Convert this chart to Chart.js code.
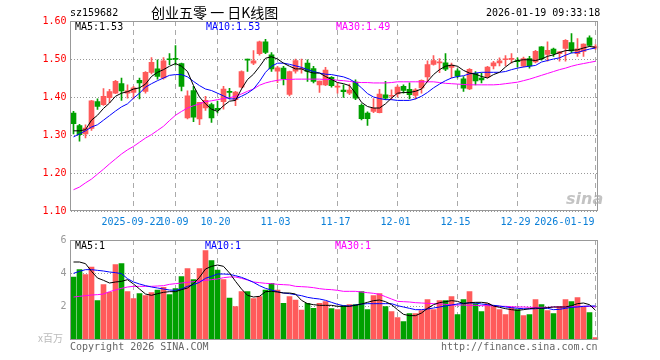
<!DOCTYPE html>
<html><head><meta charset="utf-8">
<script src="https://cdn.jsdelivr.net/npm/chart.js@4.4.1/dist/chart.umd.min.js"></script>
<style>
html,body{margin:0;padding:0;background:#fff;}
#wrap{position:relative;width:660px;height:360px;overflow:hidden;background:#fff;}
canvas{position:absolute;left:0;}
.t{position:absolute;font-family:'DejaVu Sans Mono',monospace;font-size:10px;line-height:12px;white-space:pre;color:#000;}
</style></head><body>
<div id="wrap">
<canvas id="cMain" width="660" height="232" style="top:0"></canvas>
<canvas id="cVol" width="660" height="130" style="top:230px"></canvas>
<div class="t" style="left:70px;top:7px">sz159682</div>
<div class="t" style="left:151px;top:3px;font-family:'Noto Sans CJK SC',sans-serif;font-size:14px;line-height:18px">创业五零 一 日K线图</div>
<div class="t" style="left:486px;top:7px">2026-01-19 09:33:18</div>
<div class="t" id="lg5" style="left:75px;top:21px;color:#000"></div>
<div class="t" id="lg10" style="left:206px;top:21px;color:#0000ff"></div>
<div class="t" id="lg30" style="left:336px;top:21px;color:#ff00ff"></div>
<div class="t" style="left:75px;top:240px;color:#000">MA5:1</div>
<div class="t" style="left:205px;top:240px;color:#0000ff">MA10:1</div>
<div class="t" style="left:335px;top:240px;color:#ff00ff">MA30:1</div>
<div class="t" style="left:38px;top:332px;color:#bbb;font-family:'Noto Sans CJK SC',sans-serif;font-size:10px">x百万</div>
<div class="t" style="left:70px;top:341px;color:#666">Copyright 2026 SINA.COM</div>
<div class="t" style="left:441px;top:341px;color:#666">http://finance.sina.com.cn</div>
<div class="t" style="left:566px;top:190px;color:rgba(170,170,170,0.7);font-family:'DejaVu Sans',sans-serif;font-size:16px;font-style:italic;font-weight:bold;line-height:18px">sina</div>
</div>
<script>
const dates = ['2025-09-08','2025-09-09','2025-09-10','2025-09-11','2025-09-12','2025-09-15','2025-09-16','2025-09-17','2025-09-18','2025-09-19',
'2025-09-22','2025-09-23','2025-09-24','2025-09-25','2025-09-26','2025-09-29','2025-09-30','2025-10-09','2025-10-10','2025-10-13',
'2025-10-14','2025-10-15','2025-10-16','2025-10-17','2025-10-20','2025-10-21','2025-10-22','2025-10-23','2025-10-24','2025-10-27',
'2025-10-28','2025-10-29','2025-10-30','2025-10-31','2025-11-03','2025-11-04','2025-11-05','2025-11-06','2025-11-07','2025-11-10',
'2025-11-11','2025-11-12','2025-11-13','2025-11-14','2025-11-17','2025-11-18','2025-11-19','2025-11-20','2025-11-21','2025-11-24',
'2025-11-25','2025-11-26','2025-11-27','2025-11-28','2025-12-01','2025-12-02','2025-12-03','2025-12-04','2025-12-05','2025-12-08',
'2025-12-09','2025-12-10','2025-12-11','2025-12-12','2025-12-15','2025-12-16','2025-12-17','2025-12-18','2025-12-19','2025-12-22',
'2025-12-23','2025-12-24','2025-12-25','2025-12-26','2025-12-29','2025-12-30','2025-12-31','2026-01-05','2026-01-06','2026-01-07',
'2026-01-08','2026-01-09','2026-01-12','2026-01-13','2026-01-14','2026-01-15','2026-01-16','2026-01-19'];

const tickDates = ['2025-09-22','2025-10-09','2025-10-20','2025-11-03','2025-11-17','2025-12-01','2025-12-15','2025-12-29','2026-01-19'];
const tickTexts = ['2025-09-22','10-09','10-20','11-03','11-17','12-01','12-15','12-29','2026-01-19'];
const priceTicks = [1.10,1.20,1.30,1.40,1.50,1.60];
const volTicks = [2,4,6];

const opens = [1.358,1.325,1.303,1.317,1.388,1.380,1.398,1.410,1.435,1.410,
1.412,1.444,1.415,1.465,1.474,1.450,1.499,1.501,1.488,1.345,
1.417,1.342,1.371,1.380,1.370,1.388,1.414,1.393,1.426,1.499,
1.489,1.514,1.545,1.511,1.468,1.476,1.407,1.468,1.473,1.489,
1.475,1.432,1.432,1.452,1.426,1.418,1.410,1.439,1.378,1.358,
1.362,1.359,1.406,1.402,1.408,1.428,1.420,1.404,1.424,1.453,
1.486,1.490,1.490,1.478,1.469,1.448,1.421,1.462,1.450,1.453,
1.482,1.490,1.498,1.499,1.495,1.481,1.501,1.492,1.532,1.512,
1.526,1.514,1.528,1.543,1.514,1.520,1.556,1.529];
const highs = [1.362,1.328,1.327,1.391,1.395,1.422,1.420,1.444,1.450,1.432,
1.428,1.450,1.467,1.504,1.498,1.504,1.514,1.535,1.489,1.416,
1.428,1.386,1.402,1.384,1.389,1.428,1.423,1.415,1.469,1.500,
1.522,1.547,1.552,1.517,1.481,1.481,1.468,1.500,1.500,1.498,
1.481,1.442,1.478,1.454,1.437,1.432,1.434,1.445,1.382,1.361,
1.396,1.420,1.441,1.419,1.430,1.432,1.437,1.422,1.445,1.495,
1.509,1.501,1.514,1.489,1.474,1.454,1.475,1.467,1.463,1.481,
1.494,1.503,1.509,1.514,1.503,1.505,1.507,1.523,1.533,1.545,
1.529,1.520,1.551,1.567,1.554,1.540,1.561,1.538];
const lows = [1.303,1.284,1.292,1.312,1.367,1.378,1.385,1.409,1.391,1.397,
1.395,1.395,1.410,1.461,1.447,1.447,1.485,1.484,1.416,1.342,
1.335,1.327,1.365,1.333,1.358,1.368,1.395,1.377,1.424,1.467,
1.485,1.510,1.514,1.467,1.438,1.432,1.403,1.463,1.463,1.441,
1.437,1.412,1.430,1.426,1.410,1.399,1.406,1.393,1.340,1.325,
1.359,1.358,1.393,1.393,1.400,1.410,1.395,1.395,1.410,1.440,
1.484,1.464,1.469,1.451,1.450,1.415,1.419,1.432,1.437,1.450,
1.474,1.482,1.482,1.489,1.479,1.479,1.476,1.490,1.497,1.494,
1.507,1.494,1.494,1.516,1.507,1.507,1.533,1.525];
const closes = [1.330,1.301,1.318,1.390,1.375,1.402,1.414,1.441,1.416,1.416,
1.424,1.437,1.465,1.491,1.454,1.495,1.498,1.499,1.428,1.403,
1.347,1.386,1.391,1.345,1.366,1.421,1.412,1.413,1.467,1.497,
1.495,1.545,1.517,1.474,1.477,1.448,1.467,1.496,1.475,1.467,
1.441,1.442,1.471,1.430,1.429,1.414,1.418,1.397,1.343,1.343,
1.370,1.408,1.397,1.404,1.426,1.417,1.406,1.419,1.444,1.485,
1.496,1.492,1.473,1.484,1.455,1.423,1.473,1.442,1.445,1.479,
1.490,1.495,1.500,1.501,1.493,1.501,1.482,1.520,1.500,1.523,
1.514,1.519,1.549,1.521,1.527,1.539,1.536,1.533];

const ma5 = [1.311,1.311,1.314,1.339,1.352,1.370,1.384,1.402,1.410,1.414,
1.421,1.424,1.434,1.454,1.465,1.472,1.481,1.488,1.481,1.467,
1.430,1.400,1.382,1.368,1.362,1.377,1.389,1.391,1.421,1.446,
1.460,1.480,1.502,1.506,1.500,1.489,1.481,1.474,1.474,1.467,
1.463,1.463,1.454,1.446,1.438,1.435,1.430,1.410,1.386,1.375,
1.371,1.371,1.382,1.397,1.410,1.412,1.412,1.415,1.421,1.441,
1.459,1.472,1.481,1.484,1.481,1.470,1.463,1.460,1.454,1.450,
1.459,1.465,1.479,1.491,1.496,1.498,1.498,1.496,1.500,1.507,
1.511,1.517,1.522,1.523,1.524,1.529,1.533,1.531];
const ma10 = [1.295,1.303,1.311,1.321,1.327,1.339,1.351,1.363,1.374,1.382,
1.397,1.410,1.426,1.435,1.443,1.450,1.457,1.459,1.459,1.453,
1.441,1.430,1.421,1.417,1.410,1.403,1.395,1.395,1.402,1.410,
1.421,1.441,1.465,1.481,1.489,1.489,1.486,1.482,1.478,1.472,
1.467,1.463,1.460,1.459,1.456,1.453,1.447,1.438,1.424,1.409,
1.400,1.396,1.393,1.393,1.391,1.391,1.391,1.395,1.402,1.412,
1.424,1.434,1.443,1.450,1.454,1.456,1.461,1.463,1.465,1.465,
1.465,1.465,1.467,1.472,1.476,1.479,1.481,1.483,1.492,1.496,
1.500,1.503,1.510,1.516,1.517,1.522,1.526,1.529];
const ma30 = [1.156,1.163,1.174,1.184,1.197,1.210,1.224,1.237,1.250,1.261,
1.270,1.281,1.292,1.301,1.312,1.323,1.338,1.352,1.362,1.371,
1.377,1.382,1.388,1.390,1.393,1.396,1.398,1.402,1.408,1.415,
1.421,1.431,1.437,1.441,1.444,1.446,1.446,1.447,1.447,1.447,
1.447,1.447,1.446,1.446,1.444,1.443,1.441,1.439,1.438,1.438,
1.437,1.437,1.437,1.438,1.440,1.440,1.440,1.440,1.440,1.440,
1.440,1.438,1.436,1.435,1.434,1.433,1.432,1.432,1.432,1.432,
1.432,1.433,1.435,1.437,1.439,1.443,1.447,1.452,1.457,1.462,
1.467,1.472,1.476,1.481,1.485,1.488,1.491,1.494];

const volumes = [3.78,4.22,3.92,4.38,2.36,3.32,2.86,4.52,4.58,2.90,
2.48,2.78,2.66,2.84,3.00,3.16,2.72,3.08,3.80,4.28,
3.62,4.28,5.36,4.76,4.20,3.62,2.52,2.00,2.90,2.90,
2.48,2.60,3.00,3.40,3.00,2.20,2.60,2.40,1.80,2.20,
1.90,2.20,2.30,1.88,1.82,2.06,2.12,2.12,2.90,1.82,
2.66,2.78,2.00,1.70,1.34,1.10,1.58,1.58,1.76,2.42,
1.82,2.36,2.36,2.60,1.52,2.42,2.90,2.18,1.70,2.18,
2.06,1.82,1.52,1.94,1.82,1.46,1.52,2.42,2.12,1.76,
1.58,2.00,2.42,2.30,2.54,2.00,1.64,0.14];
const vma5 = [4.68,4.68,4.58,4.12,3.72,3.58,3.42,3.48,3.52,3.62,
3.36,3.06,2.76,2.68,2.78,2.86,2.90,2.90,3.02,3.12,
3.38,3.76,4.26,4.42,4.50,4.42,4.02,3.52,3.06,2.68,
2.58,2.62,2.90,2.92,2.88,2.82,2.82,2.76,2.38,2.18,
2.12,2.08,2.08,2.08,2.02,2.02,2.02,2.08,2.16,2.26,
2.36,2.40,2.30,2.12,1.82,1.54,1.46,1.46,1.62,1.90,
2.12,2.24,2.30,2.36,2.32,2.18,2.24,2.26,2.26,2.22,
2.04,1.96,1.88,1.82,1.78,1.82,1.88,1.92,1.90,1.94,
1.98,1.98,1.98,2.06,2.18,2.22,2.12,1.78];
const vma10 = [4.00,4.12,4.22,4.22,4.18,4.14,4.08,4.04,3.98,3.68,
3.48,3.36,3.26,3.18,3.12,3.06,3.00,2.98,3.06,3.22,
3.32,3.46,3.70,3.82,3.96,3.96,3.94,3.86,3.76,3.62,
3.46,3.26,3.10,3.00,2.90,2.82,2.78,2.72,2.66,2.56,
2.50,2.46,2.38,2.26,2.14,2.06,2.04,2.10,2.16,2.18,
2.18,2.18,2.18,2.18,2.06,1.98,1.90,1.82,1.82,1.86,
1.92,1.98,2.04,2.10,2.16,2.20,2.22,2.22,2.16,2.12,
2.08,2.04,1.98,1.94,1.90,1.88,1.86,1.88,1.90,1.90,
1.82,1.84,1.90,1.96,1.98,2.02,2.04,2.04];
const vma30 = [2.58,2.62,2.66,2.70,2.72,2.76,2.90,3.00,3.10,3.18,
3.22,3.22,3.22,3.22,3.24,3.26,3.34,3.38,3.42,3.46,
3.50,3.54,3.58,3.62,3.66,3.74,3.78,3.78,3.70,3.60,
3.48,3.44,3.40,3.38,3.34,3.32,3.30,3.22,3.20,3.18,
3.14,3.08,3.04,3.02,2.98,2.92,2.92,2.92,2.88,2.84,
2.80,2.74,2.60,2.46,2.32,2.30,2.28,2.24,2.22,2.20,
2.18,2.16,2.14,2.10,2.10,2.10,2.08,2.08,2.06,2.06,
2.04,2.02,2.02,2.00,1.98,1.98,1.96,1.96,1.96,1.96,
1.98,1.98,1.98,2.00,2.02,2.02,2.02,1.98];

const UP = '#ff5a5a', DOWN = '#00a000';
const colors = closes.map((c, i) => c >= opens[i] ? UP : DOWN);
const tickIdx = new Set(tickDates.map(d => dates.indexOf(d)));
const MONO = "'DejaVu Sans Mono', monospace";

document.getElementById('lg5').textContent = 'MA5:' + ma5[ma5.length - 1].toFixed(2);
document.getElementById('lg10').textContent = 'MA10:' + ma10[ma10.length - 1].toFixed(2);
document.getElementById('lg30').textContent = 'MA30:' + ma30[ma30.length - 1].toFixed(2);

const framePlugin = {
  id: 'frame',
  afterDraw(chart) {
    const {ctx, chartArea: a} = chart;
    ctx.save();
    ctx.strokeStyle = '#999';
    ctx.lineWidth = 1;
    const l = Math.floor(a.left) + 0.5, t = Math.floor(a.top) + 0.5;
    const r = Math.floor(a.right) - 0.5, b = Math.floor(a.bottom) - 0.5;
    ctx.strokeRect(l, t, r - l, b - t);
    ctx.restore();
  }
};
const xLabelPlugin = {
  id: 'xlab',
  afterDraw(chart) {
    const xs = chart.scales.x, ctx = chart.ctx;
    ctx.save();
    ctx.font = '10px ' + MONO;
    ctx.fillStyle = '#0a7fd8';
    ctx.textBaseline = 'middle';
    tickDates.forEach((d, k) => {
      const px = xs.getPixelForValue(dates.indexOf(d));
      const last = k === tickDates.length - 1;
      ctx.textAlign = last ? 'right' : 'center';
      ctx.fillText(tickTexts[k], last ? px - 1 : px - 2, chart.chartArea.bottom + 11);
    });
    ctx.restore();
  }
};

function xScale() {
  return {
    type: 'category',
    offset: true,
    afterFit: s => { s.height = 21; },
    ticks: { display: false, autoSkip: false },
    grid: { offset: false, drawTicks: false, lineWidth: 1,
      color: c => tickIdx.has(c.index) ? '#aaa' : 'rgba(0,0,0,0)' },
    border: { display: false, dash: [5, 4] }
  };
}

new Chart(document.getElementById('cMain'), {
  type: 'bar',
  data: {
    labels: dates,
    datasets: [
      { type: 'line', data: ma5, borderColor: '#000000', borderWidth: 1, pointRadius: 0, tension: 0, order: 1 },
      { type: 'line', data: ma10, borderColor: '#0000ff', borderWidth: 1, pointRadius: 0, tension: 0, order: 1 },
      { type: 'line', data: ma30, borderColor: '#ff00ff', borderWidth: 1, pointRadius: 0, tension: 0, order: 1 },
      { type: 'bar', data: opens.map((o, i) => [Math.min(o, closes[i]), Math.max(o, closes[i])]),
        backgroundColor: colors, barThickness: 5, minBarLength: 1, grouped: false, borderWidth: 0, order: 2 },
      { type: 'bar', data: lows.map((l, i) => [l, highs[i]]),
        backgroundColor: colors, barThickness: 1, grouped: false, borderWidth: 0, order: 3 }
    ]
  },
  options: {
    responsive: false, animation: false, events: [],
    layout: { autoPadding: false, padding: { left: 0, right: 61.5, top: 21, bottom: 0 } },
    plugins: { legend: { display: false }, tooltip: { enabled: false } },
    scales: {
      x: xScale(),
      y: {
        min: 1.10, max: 1.60,
        afterFit: s => { s.width = 70.5; },
        afterBuildTicks: s => { s.ticks = priceTicks.map(v => ({ value: v })); },
        ticks: { color: '#ff0000', font: { family: MONO, size: 10 }, padding: 4,
          callback: v => Number(v).toFixed(2) },
        grid: { color: '#999', drawTicks: false, lineWidth: 1 },
        border: { display: false, dash: [1, 2] }
      }
    }
  },
  plugins: [framePlugin, xLabelPlugin]
});

new Chart(document.getElementById('cVol'), {
  type: 'bar',
  data: {
    labels: dates,
    datasets: [
      { type: 'line', data: vma5, borderColor: '#000000', borderWidth: 1, pointRadius: 0, tension: 0, order: 1 },
      { type: 'line', data: vma10, borderColor: '#0000ff', borderWidth: 1, pointRadius: 0, tension: 0, order: 1 },
      { type: 'line', data: vma30, borderColor: '#ff00ff', borderWidth: 1, pointRadius: 0, tension: 0, order: 1 },
      { type: 'bar', data: volumes, backgroundColor: colors, barThickness: 5, grouped: false, borderWidth: 0, order: 2 }
    ]
  },
  options: {
    responsive: false, animation: false, events: [],
    layout: { autoPadding: false, padding: { left: 0, right: 61.5, top: 10, bottom: 0 } },
    plugins: { legend: { display: false }, tooltip: { enabled: false } },
    scales: {
      x: Object.assign(xScale(), { afterFit: s => { s.height = 20; } }),
      y: {
        min: 0, max: 6,
        afterFit: s => { s.width = 70.5; },
        afterBuildTicks: s => { s.ticks = volTicks.map(v => ({ value: v })); },
        ticks: { color: '#999', font: { family: MONO, size: 10 }, padding: 4 },
        grid: { color: '#999', drawTicks: false, lineWidth: 1 },
        border: { display: false, dash: [1, 2] }
      }
    }
  },
  plugins: [framePlugin]
});
</script>
</body></html>
